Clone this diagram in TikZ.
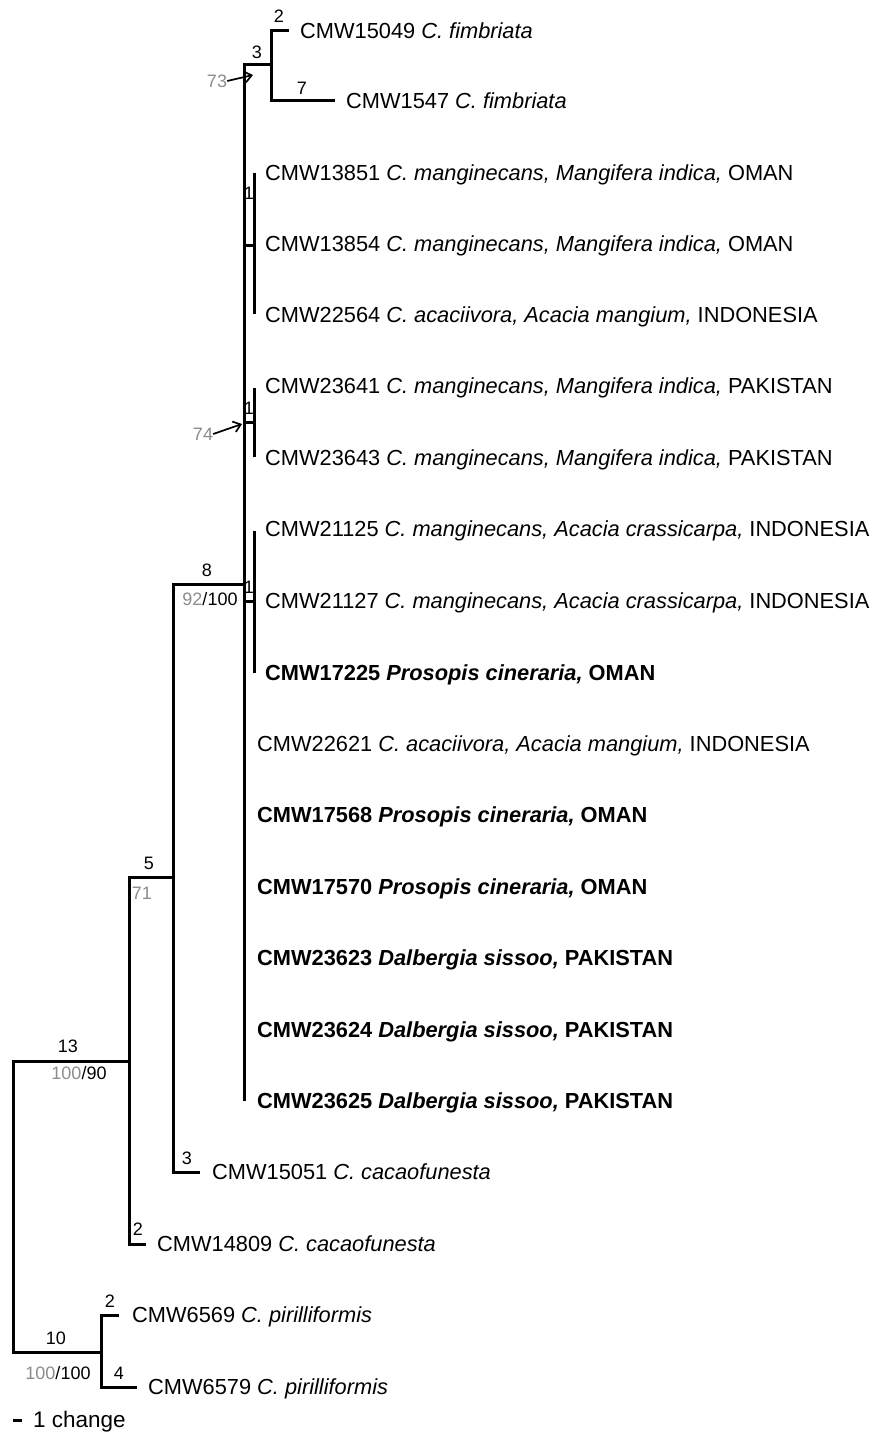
\documentclass[tikz,border=0pt]{standalone}
\usepackage{fontspec}
\setmainfont{Liberation Sans}
\usepackage{xcolor}
\usepackage{tikz}
\usetikzlibrary{arrows.meta}

\definecolor{bootgray}{RGB}{140,140,140}

\tikzset{
  branch/.style={line width=3pt},
  tip/.style={anchor=west, inner sep=0pt, text height=15.5pt, text depth=0pt,
              font=\fontsize{21.8}{25}\selectfont},
  blab/.style={inner sep=0pt, font=\fontsize{18}{21}\selectfont},
  glab/.style={blab, text=bootgray},
  pointer/.style={line width=1.7pt, -{Straight Barb[length=7pt,width=11pt]}}
}

\begin{document}
\begin{tikzpicture}[x=1pt, y=-1pt]
\useasboundingbox (0,0) rectangle (877,1434);

% internal nodes
\coordinate (root) at (13,1200);
\coordinate (n13) at (129,1061);
\coordinate (n10) at (101,1352);
\coordinate (n5) at (173,877);
\coordinate (n8) at (244,584);
\coordinate (n3) at (271,65);
\coordinate (g1) at (254,245);
\coordinate (g2) at (254,422);
\coordinate (g3) at (254,601);
\coordinate (g1a) at (254,173);
\coordinate (g1b) at (254,314);
\coordinate (g2a) at (254,388);
\coordinate (g2b) at (254,457);
\coordinate (g3a) at (254,531);
\coordinate (g3b) at (254,673);
\coordinate (b25) at (244,1101);

% branch ends
\coordinate (e15049) at (289,31);
\coordinate (e1547) at (335,101);
\coordinate (e15051) at (200,1172);
\coordinate (e14809) at (146,1244);
\coordinate (e6569) at (119,1315);
\coordinate (e6579) at (137,1387);

\draw[branch] (root) |- (n13)
              (root) |- (n10)
              (n13) |- (n5)
              (n13) |- (e14809)
              (n5) |- (n8)
              (n5) |- (e15051)
              (n8) |- (n3)
              (n8) -- (b25)
              (n8) |- (g1)
              (n8) |- (g2)
              (n8) |- (g3)
              (g1a) -- (g1b)
              (g2a) -- (g2b)
              (g3a) -- (g3b)
              (n3) |- (e15049)
              (n3) |- (e1547)
              (n10) |- (e6569)
              (n10) |- (e6579);

% tips
\node[tip] (t15049) at (300,31) {CMW15049 \textit{C. fimbriata}};
\node[tip] (t1547) at (346,101) {CMW1547 \textit{C. fimbriata}};
\node[tip] (t13851) at (265,173) {CMW13851 \textit{C. manginecans, Mangifera indica,} OMAN};
\node[tip] (t13854) at (265,244) {CMW13854 \textit{C. manginecans, Mangifera indica,} OMAN};
\node[tip] (t22564) at (265,315) {CMW22564 \textit{C. acaciivora, Acacia mangium,} INDONESIA};
\node[tip] (t23641) at (265,386) {CMW23641 \textit{C. manginecans, Mangifera indica,} PAKISTAN};
\node[tip] (t23643) at (265,458) {CMW23643 \textit{C. manginecans, Mangifera indica,} PAKISTAN};
\node[tip] (t21125) at (265,529) {CMW21125 \textit{C. manginecans, Acacia crassicarpa,} INDONESIA};
\node[tip] (t21127) at (265,601) {CMW21127 \textit{C. manginecans, Acacia crassicarpa,} INDONESIA};
\node[tip] (t17225) at (265,673) {\textbf{CMW17225 \textit{Prosopis cineraria,} OMAN}};
\node[tip] (t22621) at (257,744) {CMW22621 \textit{C. acaciivora, Acacia mangium,} INDONESIA};
\node[tip] (t17568) at (257,815) {\textbf{CMW17568 \textit{Prosopis cineraria,} OMAN}};
\node[tip] (t17570) at (257,887) {\textbf{CMW17570 \textit{Prosopis cineraria,} OMAN}};
\node[tip] (t23623) at (257,958) {\textbf{CMW23623 \textit{Dalbergia sissoo,} PAKISTAN}};
\node[tip] (t23624) at (257,1030) {\textbf{CMW23624 \textit{Dalbergia sissoo,} PAKISTAN}};
\node[tip] (t23625) at (257,1101) {\textbf{CMW23625 \textit{Dalbergia sissoo,} PAKISTAN}};
\node[tip] (t15051) at (212,1172) {CMW15051 \textit{C. cacaofunesta}};
\node[tip] (t14809) at (157,1244) {CMW14809 \textit{C. cacaofunesta}};
\node[tip] (t6569) at (132,1315) {CMW6569 \textit{C. pirilliformis}};
\node[tip] (t6579) at (148,1387) {CMW6579 \textit{C. pirilliformis}};

% branch lengths
\node[blab] (l15049) at (279,16) {2};
\node[blab] (l3) at (257,52) {3};
\node[blab] (l1547) at (302,88) {7};
\node[blab] (lg1) at (249,193) {1};
\node[blab] (lg2) at (249,408) {1};
\node[blab] (lg3) at (249,587) {1};
\node[blab] (l8) at (207,570) {8};
\node[blab] (l5) at (149,863) {5};
\node[blab] (l13) at (68,1046) {13};
\node[blab] (l15051) at (187,1158) {3};
\node[blab] (l14809) at (138,1229) {2};
\node[blab] (l6569) at (110,1301) {2};
\node[blab] (l10) at (56,1338) {10};
\node[blab] (l6579) at (119,1373) {4};

% support values
\node[blab] (s8) at (210,599) {{\color{bootgray}92}/100};
\node[glab] (s5) at (142,893) {71};
\node[blab] (s13) at (79,1073) {{\color{bootgray}100}/90};
\node[blab] (s10) at (58,1373) {{\color{bootgray}100}/100};

\node[glab] (s73) at (217,81) {73};
\coordinate (h73) at (253,75);
\draw[pointer] (s73.east) -- (h73);
\node[glab] (s74) at (203,434) {74};
\coordinate (h74) at (242,424);
\draw[pointer] (s74.east) -- (h74);

% scale
\coordinate (sc0) at (13,1420);
\coordinate (sc1) at (22,1420);
\draw[branch] (sc0) -- (sc1);
\node[tip, font=\fontsize{22.5}{26}\selectfont] (scl) at (33,1420) {1 change};
\end{tikzpicture}
\end{document}
